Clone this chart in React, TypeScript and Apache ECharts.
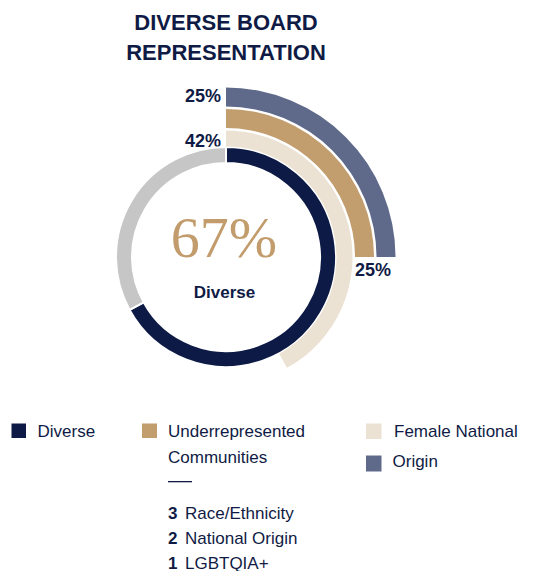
import React, { useEffect, useRef } from "react";
import * as echarts from "echarts";

// ---- data ----
const titleLines = ["DIVERSE BOARD", "REPRESENTATION"];
const ringNames = ["Diverse", "Female National", "Underrepresented Communities", "Origin"];
const ringValues = [67, 42, 25, 25];
const centerCaption = "Diverse";
const legendLabels = ["Diverse", "Underrepresented\nCommunities", "Female National", "Origin"];
const subCounts = ["3", "2", "1"];
const subLabels = ["Race/Ethnicity", "National Origin", "LGBTQIA+"];

// ---- styles ----
const NAVY = "#0D1A45";
const GREY = "#C6C6C6";
const BEIGE = "#EBE2D3";
const TAN = "#C29D6E";
const SLATE = "#5F6A8B";
const TEXT = "#0F1B45";
const SANS = '"Liberation Sans", Arial, sans-serif';
const SERIF = '"Liberation Serif", "Times New Roman", serif';

const ringColors = [NAVY, BEIGE, TAN, SLATE];
const ringRadii: [number, number][] = [
  [94, 110],
  [110.5, 126.5],
  [129, 148],
  [150.5, 169.5],
];
const CX = 226;
const CY = 257;

export default function App() {
  const ref = useRef<HTMLDivElement>(null);
  useEffect(() => {
    if (!ref.current) return;
    const chart = echarts.init(ref.current, undefined, { renderer: "svg" });

    const series: any[] = ringValues.map((v, i) => ({
      type: "pie",
      name: ringNames[i],
      center: [CX, CY],
      radius: ringRadii[i],
      startAngle: 90,
      clockwise: true,
      silent: true,
      label: { show: false },
      labelLine: { show: false },
      emphasis: { disabled: true },
      itemStyle:
        i === 0 ? { borderColor: "#ffffff", borderWidth: 2 } : { borderWidth: 0 },
      data: [
        { value: v, name: ringNames[i], itemStyle: { color: ringColors[i] } },
        {
          value: 100 - v,
          name: "rest",
          itemStyle: { color: i === 0 ? GREY : "rgba(0,0,0,0)" },
        },
      ],
    }));

    const txt = (
      x: number,
      y: number,
      text: string,
      size: number,
      opts: any = {}
    ) => ({
      type: "text",
      x,
      y,
      silent: true,
      style: {
        text,
        fill: opts.fill || TEXT,
        font: `${opts.bold ? "bold " : ""}${size}px ${opts.family || SANS}`,
        align: opts.align || "left",
        verticalAlign: "middle",
      },
    });

    const graphic: any[] = [
      txt(CX, 22.5, titleLines[0], 22, { bold: true, align: "center" }),
      txt(CX, 52.5, titleLines[1], 22, { bold: true, align: "center" }),
      // ring value labels
      txt(221, 96, `${ringValues[3]}%`, 18, { bold: true, align: "right" }),
      txt(221, 141, `${ringValues[1]}%`, 18, { bold: true, align: "right" }),
      txt(373, 270, `${ringValues[2]}%`, 18, { bold: true, align: "center" }),
      // center
      txt(224, 237, `${ringValues[0]}%`, 58, {
        align: "center",
        family: SERIF,
        fill: "#C29C6C",
      }),
      txt(224.5, 292, centerCaption, 17, { bold: true, align: "center" }),
      // legend swatches
      { type: "rect", shape: { x: 11.5, y: 423.5, width: 14.5, height: 14.5 }, style: { fill: NAVY } },
      { type: "rect", shape: { x: 142, y: 423.5, width: 15, height: 14.5 }, style: { fill: TAN } },
      { type: "rect", shape: { x: 366, y: 423.5, width: 15.5, height: 15.5 }, style: { fill: BEIGE } },
      { type: "rect", shape: { x: 366, y: 455.5, width: 15.5, height: 16 }, style: { fill: SLATE } },
      // legend texts
      txt(37.5, 431, legendLabels[0], 17),
      txt(168, 431, legendLabels[1].split("\n")[0], 17),
      txt(168, 457.5, legendLabels[1].split("\n")[1], 17),
      txt(394, 431, legendLabels[2], 17),
      txt(392.5, 461.5, legendLabels[3], 17),
      {
        type: "rect",
        shape: { x: 168, y: 481, width: 24, height: 1.3 },
        style: { fill: TEXT },
      },
    ];
    subCounts.forEach((c, i) => {
      const y = 513 + i * 25;
      graphic.push(txt(168, y, c, 17, { bold: true }));
      graphic.push(txt(185, y, subLabels[i], 17));
    });

    chart.setOption({
      animation: false,
      backgroundColor: "#ffffff",
      series,
      graphic,
    });
    return () => chart.dispose();
  }, []);

  return (
    <div
      ref={ref}
      style={{ position: "absolute", left: 0, top: 0, width: 552, height: 571 }}
    />
  );
}
